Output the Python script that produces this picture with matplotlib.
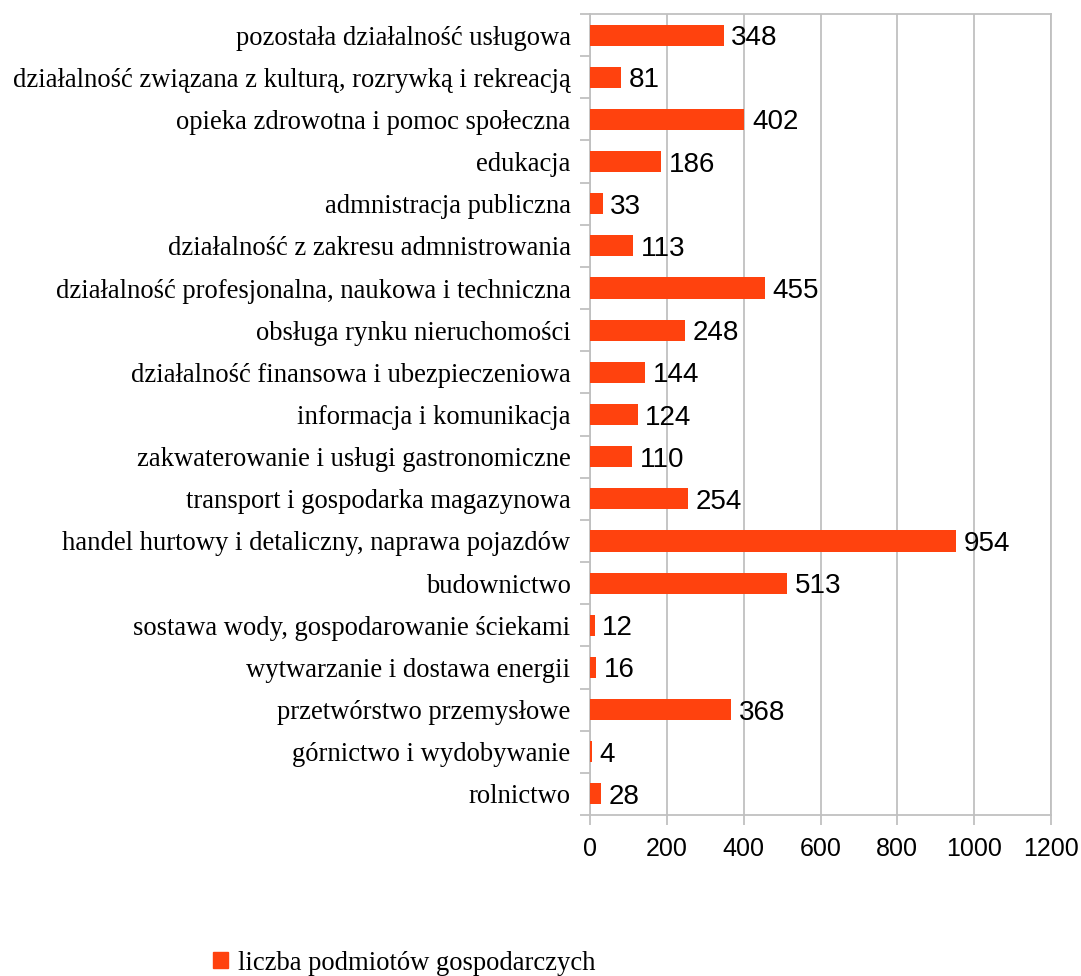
import matplotlib.pyplot as plt
from matplotlib.patches import Patch

categories = [
    'pozostała działalność usługowa',
    'działalność związana z kulturą, rozrywką i rekreacją',
    'opieka zdrowotna i pomoc społeczna',
    'edukacja',
    'admnistracja publiczna',
    'działalność z zakresu admnistrowania',
    'działalność profesjonalna, naukowa i techniczna',
    'obsługa rynku nieruchomości',
    'działalność finansowa i ubezpieczeniowa',
    'informacja i komunikacja',
    'zakwaterowanie i usługi gastronomiczne',
    'transport i gospodarka magazynowa',
    'handel hurtowy i detaliczny, naprawa pojazdów',
    'budownictwo',
    'sostawa wody, gospodarowanie ściekami',
    'wytwarzanie i dostawa energii',
    'przetwórstwo przemysłowe',
    'górnictwo i wydobywanie',
    'rolnictwo',
]
values = [348, 81, 402, 186, 33, 113, 455, 248, 144, 124, 110, 254, 954, 513, 12, 16, 368, 4, 28]
series_name = 'liczba podmiotów gospodarczych'
xticks = [0, 200, 400, 600, 800, 1000, 1200]

color = '#ff420e'
grid = '#c0c0c0'
serif = ['Liberation Serif', 'DejaVu Serif']
sans = ['Liberation Sans', 'DejaVu Sans']
fs = 18
fs_val = 20
fs_serif = 19.2

fig = plt.figure(figsize=(10.81, 9.76), dpi=100)
ax = fig.add_axes([590 / 1081, 1 - 815 / 976, 461 / 1081, 801 / 976])

n = len(categories)
ypos = list(range(n))
ax.barh(ypos, values, height=0.5, color=color, zorder=3)
ax.set_ylim(n - 0.5, -0.5)
ax.set_xlim(0, 1200)

for y, v in zip(ypos, values):
    ax.text(v + 20, y, str(v), va='center_baseline', ha='left', fontsize=fs_val,
            family=sans, color='black', zorder=4)

ax.set_xticks(xticks)
ax.set_xticklabels([str(t) for t in xticks], fontsize=fs, family=sans)
ax.set_yticks(ypos)
ax.set_yticklabels(categories, fontsize=fs_serif, family=serif)
ax.tick_params(axis='y', which='major', length=0, pad=14)
ax.set_yticks([i - 0.5 for i in range(n + 1)], minor=True)
ax.tick_params(axis='y', which='minor', length=7.2, color=grid, width=1.3)
ax.tick_params(axis='x', which='major', length=7.2, color=grid, width=1.3, pad=9)

ax.grid(axis='x', color=grid, linewidth=1.3, zorder=0)
for s in ax.spines.values():
    s.set_color(grid)
    s.set_linewidth(1.3)

fig.legend(handles=[Patch(color=color, label=series_name)],
           loc='center', bbox_to_anchor=(404 / 1081, 1 - 963 / 976),
           frameon=False, prop={'family': serif, 'size': fs_serif},
           handlelength=0.55, handleheight=0.55, handletextpad=0.37)

fig.savefig('out.png', dpi=100)
